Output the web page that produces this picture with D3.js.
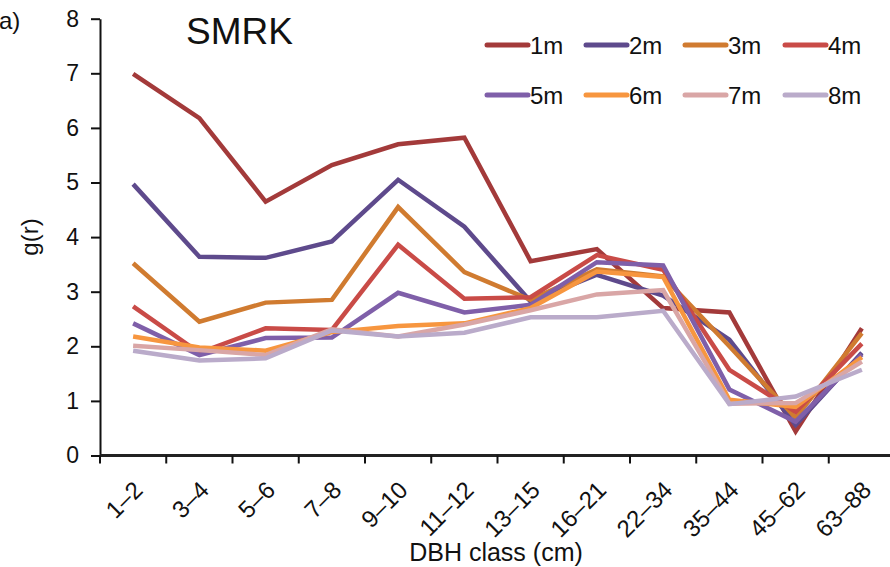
<!DOCTYPE html>
<html>
<head>
<meta charset="utf-8">
<script src="https://cdn.jsdelivr.net/npm/d3@7"></script>
<style>
  html, body { margin: 0; padding: 0; background: #fff; }
  svg { display: block; font-family: "Liberation Sans", Arial, sans-serif; }
</style>
</head>
<body>
<svg id="chart" width="890" height="567"></svg>
<script>
const categories = ["1–2","3–4","5–6","7–8","9–10","11–12","13–15","16–21","22–34","35–44","45–62","63–88"];
const seriesNames = ["1m","2m","3m","4m","5m","6m","7m","8m"];
const s1m = [6.99, 6.18, 4.65, 5.32, 5.70, 5.82, 3.56, 3.78, 2.70, 2.62, 0.44, 2.33];
const s2m = [4.97, 3.64, 3.62, 3.92, 5.05, 4.19, 2.82, 3.31, 2.93, 2.12, 0.56, 1.88];
const s3m = [3.52, 2.45, 2.80, 2.85, 4.55, 3.36, 2.85, 3.41, 3.28, 2.00, 0.69, 2.24];
const s4m = [2.73, 1.88, 2.33, 2.30, 3.86, 2.87, 2.90, 3.67, 3.40, 1.57, 0.80, 2.05];
const s5m = [2.42, 1.84, 2.15, 2.16, 2.98, 2.62, 2.76, 3.54, 3.48, 1.21, 0.62, 1.85];
const s6m = [2.18, 1.98, 1.92, 2.26, 2.37, 2.42, 2.70, 3.37, 3.27, 1.02, 0.89, 1.80];
const s7m = [2.01, 1.93, 1.84, 2.31, 2.18, 2.40, 2.66, 2.95, 3.03, 0.95, 0.96, 1.72];
const s8m = [1.92, 1.74, 1.78, 2.29, 2.18, 2.25, 2.53, 2.53, 2.65, 0.94, 1.08, 1.57];
const colors = ["#a33a3a", "#5e4a8c", "#d07b30", "#c94b47", "#7f5fa9", "#f7963f", "#d9a6a6", "#baabca"];
const yTicks = [0, 1, 2, 3, 4, 5, 6, 7, 8];

const seriesValues = [s1m, s2m, s3m, s4m, s5m, s6m, s7m, s8m];

const svg = d3.select("#chart");
const x = d3.scaleBand().domain(categories).range([100, 895]);
const y = d3.scaleLinear().domain([0, 8]).range([455.5, 18.7]);

// Y axis
const yAxis = svg.append("g").attr("transform", "translate(100,0)")
  .call(d3.axisLeft(y).tickValues(yTicks).tickSize(9).tickPadding(12).tickSizeOuter(0));
yAxis.select(".domain").attr("stroke", "#111").attr("stroke-width", 2);
yAxis.selectAll(".tick line").attr("stroke", "#111").attr("stroke-width", 2);
yAxis.selectAll(".tick text").attr("font-size", 23).attr("fill", "#111")
  .attr("font-family", "Liberation Sans, Arial, sans-serif");

// X axis: ticks at band boundaries
const xg = svg.append("g");
xg.append("line").attr("x1", 100).attr("x2", 890).attr("y1", y(0)).attr("y2", y(0))
  .attr("stroke", "#222").attr("stroke-width", 3);
xg.selectAll("line.tk").data(categories).join("line").attr("class", "tk")
  .attr("x1", d => x(d)).attr("x2", d => x(d))
  .attr("y1", y(0)).attr("y2", y(0) + 8)
  .attr("stroke", "#111").attr("stroke-width", 2);
xg.selectAll("text.lbl").data(categories).join("text").attr("class", "lbl")
  .attr("transform", d => `translate(${x(d) + x.bandwidth() / 2 + 5},${y(0) + 30}) rotate(-45)`)
  .attr("text-anchor", "end")
  .attr("dy", "0.35em")
  .attr("font-size", 24)
  .attr("fill", "#111")
  .text(d => d);

svg.append("text").attr("x", 496).attr("y", 561).attr("text-anchor", "middle")
  .attr("font-size", 25).attr("fill", "#111").text("DBH class (cm)");
svg.append("text").attr("transform", "translate(38,237) rotate(-90)")
  .attr("text-anchor", "middle").attr("font-size", 24).attr("fill", "#111").text("g(r)");

// Lines
const line = d3.line().x((d, i) => x(categories[i]) + x.bandwidth() / 2).y(d => y(d));
svg.append("g").selectAll("path").data(seriesValues).join("path")
  .attr("d", d => line(d))
  .attr("fill", "none")
  .attr("stroke", (d, i) => colors[i])
  .attr("stroke-width", 4.5)
  .attr("stroke-linejoin", "miter");

// Title & panel label
svg.append("text").attr("x", 186).attr("y", 44).attr("font-size", 37).attr("fill", "#111")
  .text("SMRK");
svg.append("text").attr("x", -1).attr("y", 29).attr("font-size", 24).attr("fill", "#111")
  .text("a)");

// Legend
const legendX = [487, 586, 685, 785];
const legendY = [45, 95];
const lg = svg.append("g");
seriesNames.forEach((name, i) => {
  const lx = legendX[i % 4], ly = legendY[Math.floor(i / 4)];
  lg.append("line").attr("x1", lx).attr("x2", lx + 41).attr("y1", ly).attr("y2", ly)
    .attr("stroke", colors[i]).attr("stroke-width", 5).attr("stroke-linecap", "round");
  lg.append("text").attr("x", lx + 43).attr("y", ly).attr("dy", "0.36em")
    .attr("font-size", 24).attr("fill", "#111").text(name);
});
</script>
</body>
</html>
